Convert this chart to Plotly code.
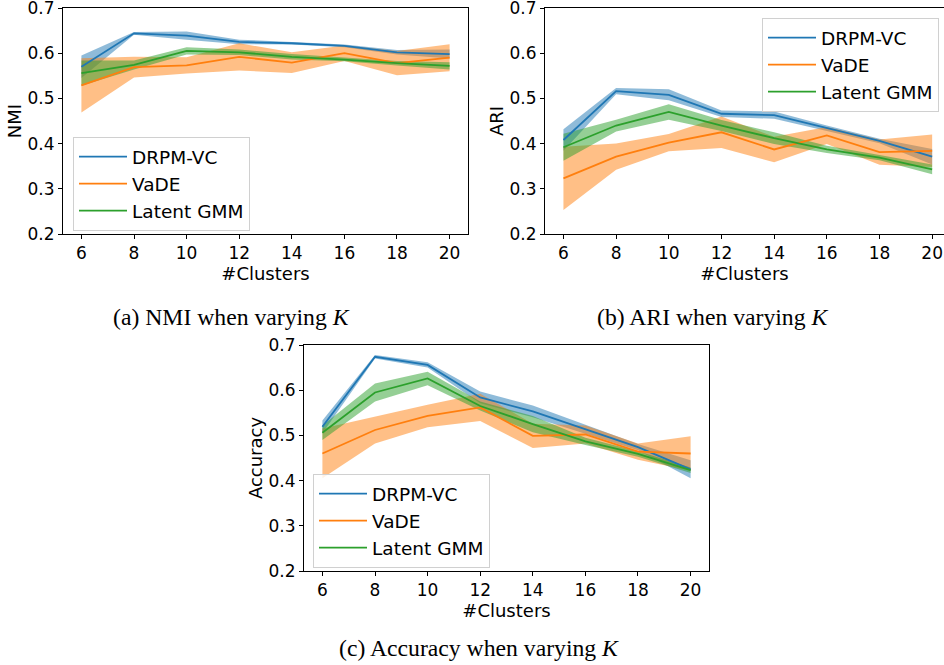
import plotly.graph_objects as go

clusters = [6, 8, 10, 12, 14, 16, 18, 20]
methods = ["DRPM-VC", "VaDE", "Latent GMM"]

# NMI
nmi_drpm = [0.570, 0.644, 0.639, 0.625, 0.622, 0.616, 0.602, 0.598]
nmi_drpm_std = [0.025, 0.003, 0.009, 0.005, 0.003, 0.003, 0.005, 0.010]
nmi_vade = [0.529, 0.569, 0.573, 0.592, 0.579, 0.600, 0.578, 0.590]
nmi_vade_std = [0.060, 0.023, 0.018, 0.030, 0.023, 0.017, 0.027, 0.030]
nmi_gmm = [0.556, 0.574, 0.605, 0.602, 0.592, 0.586, 0.578, 0.572]
nmi_gmm_std = [0.028, 0.010, 0.008, 0.006, 0.006, 0.004, 0.005, 0.008]

# ARI
ari_drpm = [0.408, 0.516, 0.508, 0.466, 0.463, 0.434, 0.406, 0.371]
ari_drpm_std = [0.024, 0.007, 0.012, 0.007, 0.008, 0.006, 0.005, 0.017]
ari_vade = [0.323, 0.371, 0.402, 0.425, 0.387, 0.418, 0.381, 0.384]
ari_vade_std = [0.070, 0.029, 0.019, 0.035, 0.028, 0.019, 0.028, 0.036]
ari_gmm = [0.392, 0.440, 0.470, 0.440, 0.412, 0.387, 0.369, 0.343]
ari_gmm_std = [0.030, 0.013, 0.017, 0.012, 0.013, 0.008, 0.006, 0.011]

# Accuracy
acc_drpm = [0.519, 0.674, 0.656, 0.584, 0.553, 0.514, 0.474, 0.425]
acc_drpm_std = [0.014, 0.004, 0.006, 0.013, 0.013, 0.010, 0.007, 0.020]
acc_vade = [0.460, 0.512, 0.543, 0.562, 0.499, 0.502, 0.464, 0.460]
acc_vade_std = [0.055, 0.030, 0.025, 0.030, 0.027, 0.020, 0.018, 0.038]
acc_gmm = [0.506, 0.595, 0.626, 0.565, 0.525, 0.487, 0.459, 0.423]
acc_gmm_std = [0.016, 0.020, 0.015, 0.010, 0.018, 0.008, 0.006, 0.006]

y_ticks = [0.2, 0.3, 0.4, 0.5, 0.6, 0.7]
x_ticks = [6, 8, 10, 12, 14, 16, 18, 20]

colors = ["#1f77b4", "#ff7f0e", "#2ca02c"]
fills = ["rgba(31,119,180,0.5)", "rgba(255,127,14,0.5)", "rgba(44,160,44,0.5)"]

panels = [
    ("x", "y", "legend", [(nmi_drpm, nmi_drpm_std), (nmi_vade, nmi_vade_std), (nmi_gmm, nmi_gmm_std)]),
    ("x2", "y2", "legend2", [(ari_drpm, ari_drpm_std), (ari_vade, ari_vade_std), (ari_gmm, ari_gmm_std)]),
    ("x3", "y3", "legend3", [(acc_drpm, acc_drpm_std), (acc_vade, acc_vade_std), (acc_gmm, acc_gmm_std)]),
]

fig = go.Figure()
for xa, ya, lg, series in panels:
    for i, (m, s) in enumerate(series):
        up = [a + b for a, b in zip(m, s)]
        lo = [a - b for a, b in zip(m, s)]
        fig.add_trace(go.Scatter(x=clusters, y=up, mode="lines", line=dict(width=0, color=fills[i]),
                                 showlegend=False, hoverinfo="skip", xaxis=xa, yaxis=ya))
        fig.add_trace(go.Scatter(x=clusters, y=lo, mode="lines", line=dict(width=0, color=fills[i]),
                                 fill="tonexty", fillcolor=fills[i],
                                 showlegend=False, hoverinfo="skip", xaxis=xa, yaxis=ya))
    for i, (m, s) in enumerate(series):
        fig.add_trace(go.Scatter(x=clusters, y=m, mode="lines", name=methods[i],
                                 line=dict(color=colors[i], width=1.8),
                                 xaxis=xa, yaxis=ya, legend=lg))

W, H = 944, 665
font_fam = "DejaVu Sans"

def xax(domain, rng, anchor, mirror=True):
    return dict(domain=domain, range=rng, anchor=anchor, tickvals=x_ticks, automargin=False,
                ticklabeloverflow="allow",
                showline=True, linecolor="black", linewidth=1, mirror=mirror,
                ticks="outside", ticklen=4, tickcolor="black", showgrid=False, zeroline=False,
                tickfont=dict(size=17, color="black", family=font_fam),
                title=dict(text="#Clusters", font=dict(size=18, color="black", family=font_fam), standoff=3))

def yax(domain, anchor, title, mirror=True):
    return dict(domain=domain, range=[0.2, 0.7], anchor=anchor, tickvals=y_ticks, tickformat=".1f",
                automargin=False, ticklabeloverflow="allow",
                showline=True, linecolor="black", linewidth=1, mirror=mirror,
                ticks="outside", ticklen=4, tickcolor="black", showgrid=False, zeroline=False,
                tickfont=dict(size=17, color="black", family=font_fam),
                title=dict(text=title, font=dict(size=18, color="black", family=font_fam), standoff=1))

def legend(x, y):
    return dict(x=x, y=y, xanchor="left", yanchor="top", bgcolor="rgba(255,255,255,0.8)",
                bordercolor="#d0d0d0", borderwidth=1, traceorder="normal", itemwidth=48,
                font=dict(size=18.5, color="black", family=font_fam))

fig.update_layout(
    width=W, height=H, margin=dict(l=0, r=0, t=0, b=0, autoexpand=False),
    paper_bgcolor="white", plot_bgcolor="white", showlegend=True,
    xaxis=xax([63 / W, 468 / W], [5.3, 20.7], "y"),
    yaxis=yax([1 - 234 / H, 1 - 8 / H], "x", "NMI"),
    xaxis2=xax([545 / W, 1.0], [5.3, 20.45], "y2"),
    yaxis2=yax([1 - 234 / H, 1 - 8 / H], "x2", "ARI"),
    xaxis3=xax([304 / W, 709 / W], [5.3, 20.7], "y3"),
    yaxis3=yax([1 - 571 / H, 1 - 345 / H], "x3", "Accuracy"),
    legend=legend(73 / W, 1 - 137 / H),
    legend2=legend(762 / W, 1 - 18 / H),
    legend3=legend(313 / W, 1 - 474 / H),
)

captions = [("(a) NMI when varying <i>K</i>", 231, 317),
            ("(b) ARI when varying <i>K</i>", 712, 317),
            ("(c) Accuracy when varying <i>K</i>", 479, 648)]
for txt, cx, cy in captions:
    fig.add_annotation(text=txt, x=cx / W, y=1 - cy / H, xref="paper", yref="paper",
                       xanchor="center", yanchor="middle", showarrow=False,
                       font=dict(size=23.7, color="black", family="Liberation Serif"))

fig.write_html("out.html", config={"displayModeBar": False},
               post_script="document.body.style.margin='0';document.body.style.overflow='hidden';")
